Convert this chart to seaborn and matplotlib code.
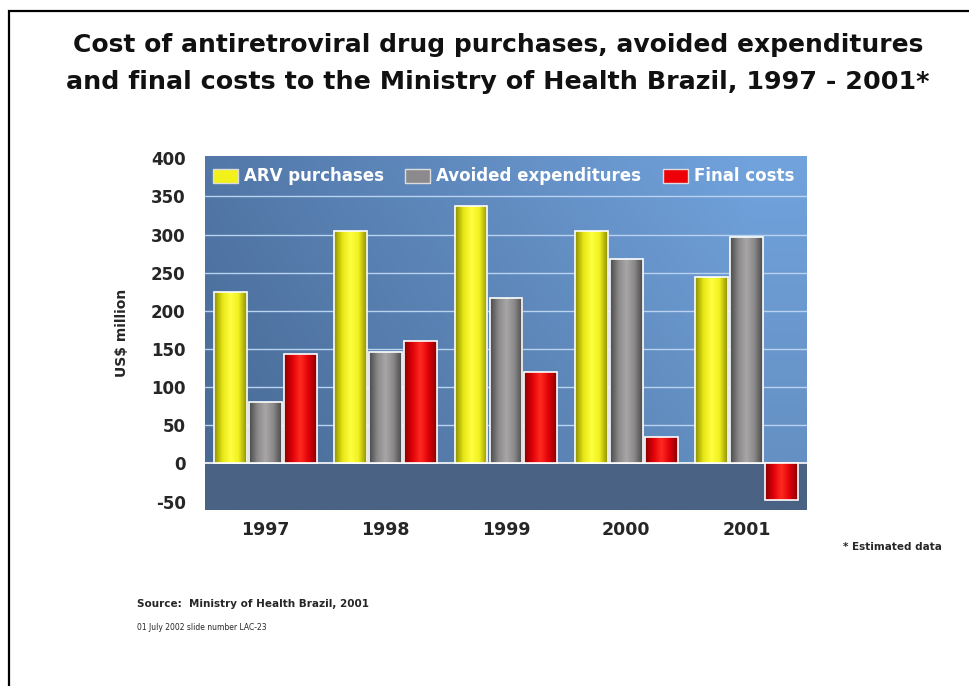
import numpy as np
import pandas as pd
import matplotlib
matplotlib.use("Agg")
import matplotlib.pyplot as plt
import matplotlib.colors as mcolors
from matplotlib.patches import Rectangle
import seaborn as sns

# ---- data ----
years = ["1997", "1998", "1999", "2000", "2001"]
arv_purchases = [225, 305, 338, 305, 245]
avoided_expenditures = [80, 146, 217, 268, 297]
final_costs = [143, 161, 120, 34, -48]
series_names = ["ARV purchases", "Avoided expenditures", "Final costs"]
y_ticks = [-50, 0, 50, 100, 150, 200, 250, 300, 350, 400]

df = pd.DataFrame({
    "year": years * 3,
    "value": arv_purchases + avoided_expenditures + final_costs,
    "series": [series_names[0]] * 5 + [series_names[1]] * 5 + [series_names[2]] * 5,
})

sns.set_theme(style="white")
plt.rcParams["font.family"] = ["DejaVu Sans"]

palette = {series_names[0]: "#f2f21a", series_names[1]: "#8c8a8c", series_names[2]: "#ee0008"}
shade = {
    series_names[0]: ["#8f8f00", "#e6e614", "#ffff40", "#f0f020", "#8f8f00"],
    series_names[1]: ["#4a4a4a", "#8a8888", "#a8a6a6", "#8a8888", "#4a4a4a"],
    series_names[2]: ["#8a0000", "#e00008", "#ff2a20", "#e00008", "#8a0000"],
}

fig = plt.figure(figsize=(9.69, 6.86), dpi=100)
fig.patch.set_facecolor("white")
ax = fig.add_axes([0.2116, 0.2566, 0.621, 0.516])

sns.barplot(data=df, x="year", y="value", hue="series", palette=palette,
            hue_order=series_names, order=years, width=0.87, gap=0.06, ax=ax,
            edgecolor="white", linewidth=1.2, saturation=1, zorder=3)

ymin, ymax = -61, 403
ax.set_ylim(ymin, ymax)
ax.set_xlim(-0.5, len(years) - 0.5)

# background gradient
ny, nx = 300, 300
ys = np.linspace(ymax, ymin, ny)
xs = np.linspace(0, 1, nx)
c_left = np.array(mcolors.to_rgb("#4e72a0"))
c_right = np.array(mcolors.to_rgb("#6c9bd2"))
c_low = np.array(mcolors.to_rgb("#4a6283"))
bg = np.zeros((ny, nx, 3))
for i, yv in enumerate(ys):
    if yv < 0:
        bg[i, :, :] = c_low
    else:
        t = yv / ymax
        horiz = np.clip(xs[:, None] * 1.1, 0, 1)
        col = c_left * (1 - horiz) + c_right * horiz
        col = col * (0.93 + 0.12 * t)
        bg[i, :, :] = np.clip(col, 0, 1)
ax.imshow(bg, extent=[-0.5, len(years) - 0.5, ymin, ymax], aspect="auto", zorder=0,
          interpolation="bilinear")

for yv in y_ticks:
    if 0 < yv < 400:
        ax.axhline(yv, color="#b9d2f0", lw=1.0, zorder=1)
ax.axhline(0, color="white", lw=1.2, zorder=2)

# legend
handles = [Rectangle((0, 0), 1, 1, facecolor=palette[s], edgecolor="#dddddd", lw=1) for s in series_names]
leg = ax.legend(handles, series_names, loc="upper left", ncol=3, frameon=False,
                bbox_to_anchor=(-0.012, 1.01), handlelength=1.5, handleheight=0.9,
                handletextpad=0.35, columnspacing=1.3,
                prop={"size": 12, "weight": "bold"})
for t in leg.get_texts():
    t.set_color("white")

# cylinder-like shading on each bar
for p in list(ax.patches):
    h = p.get_height()
    if not np.isfinite(h) or h == 0:
        continue
    fc = mcolors.to_hex(p.get_facecolor()[:3])
    name = None
    for s in series_names:
        if mcolors.to_hex(palette[s]) == fc:
            name = s
    if name is None:
        continue
    cmap = mcolors.LinearSegmentedColormap.from_list("c", shade[name])
    grad = np.linspace(0, 1, 64)[None, :]
    x0, y0 = p.get_x(), p.get_y()
    w = p.get_width()
    im = ax.imshow(grad, cmap=cmap, extent=[x0, x0 + w, min(y0, y0 + h), max(y0, y0 + h)],
                   aspect="auto", zorder=3.5, interpolation="bilinear")
    im.set_clip_path(p)
    p.set_facecolor("none")
    p.set_zorder(4)

ax.set_xlim(-0.5, len(years) - 0.5)
ax.set_ylim(ymin, ymax)
ax.set_yticks(y_ticks)
ax.set_yticklabels([str(v) for v in y_ticks], fontsize=12, fontweight="bold")
ax.set_xticklabels(years, fontsize=12.5, fontweight="bold")
ax.tick_params(axis="y", length=0, pad=14)
ax.tick_params(axis="x", length=0, pad=8)
ax.set_xlabel("")
ax.set_ylabel("US$ million", fontsize=10, fontweight="bold", labelpad=16)
for s in ax.spines.values():
    s.set_visible(False)

# titles and notes
fig.text(0.514, 0.935, "Cost of antiretroviral drug purchases, avoided expenditures",
         ha="center", va="center", fontsize=18, fontweight="bold", color="#111111")
fig.text(0.514, 0.881, "and final costs to the Ministry of Health Brazil, 1997 - 2001*",
         ha="center", va="center", fontsize=18.3, fontweight="bold", color="#111111")
fig.text(0.870, 0.203, "* Estimated data", ha="left", va="center", fontsize=7.5, fontweight="bold")
fig.text(0.141, 0.119, "Source:  Ministry of Health Brazil, 2001", ha="left", va="center",
         fontsize=7.5, fontweight="bold")
fig.text(0.141, 0.085, "01 July 2002 slide number LAC-23", ha="left", va="center", fontsize=5.5)

# slide border (top and left edges)
fig.add_artist(Rectangle((0.0093, -0.1), 1.2, 1.084, transform=fig.transFigure,
                         facecolor="none", edgecolor="black", lw=1.6))

fig.savefig("out.png", dpi=100, facecolor="white")
